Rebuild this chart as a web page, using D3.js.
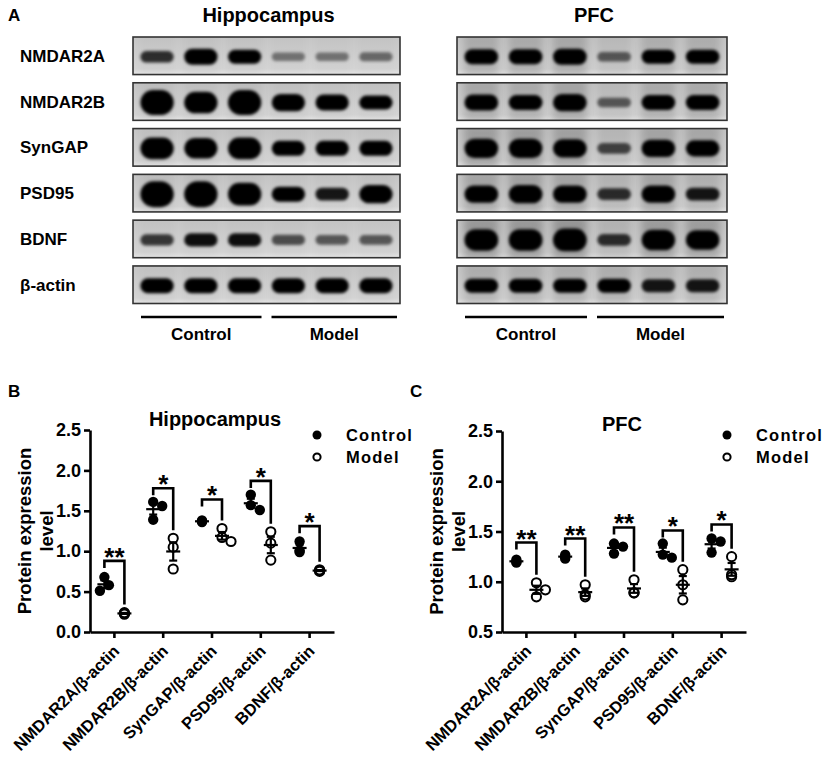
<!DOCTYPE html>
<html>
<head>
<meta charset="utf-8">
<script src="https://cdn.jsdelivr.net/npm/d3@7"></script>
<style>
body { margin: 0; background: #fff; }
text { font-family: "Liberation Sans", Arial, sans-serif; font-weight: bold; fill: #000; }
</style>
</head>
<body>
<div id="fig"></div>
<script>
// ---- data ----
const proteins = ["NMDAR2A", "NMDAR2B", "SynGAP", "PSD95", "BDNF", "β-actin"];
const lanes = ["C1", "C2", "C3", "M1", "M2", "M3"];
const groups = ["Control", "Model"];

// relative band strength per lane (0-1), one row per protein
const hippoBands = [
    [0.35, 0.55, 0.45, 0.2, 0.2, 0.22],
    [0.95, 0.8, 0.95, 0.6, 0.55, 0.45],
    [0.8, 0.75, 0.8, 0.5, 0.5, 0.5],
    [1.0, 1.0, 0.85, 0.5, 0.4, 0.65],
    [0.33, 0.42, 0.42, 0.28, 0.26, 0.26],
    [0.5, 0.5, 0.5, 0.5, 0.5, 0.5]
];
const pfcBands = [
    [0.5, 0.5, 0.55, 0.25, 0.45, 0.45],
    [0.55, 0.5, 0.6, 0.25, 0.5, 0.5],
    [0.7, 0.7, 0.65, 0.3, 0.6, 0.55],
    [0.6, 0.65, 0.6, 0.35, 0.6, 0.4],
    [0.8, 0.8, 0.85, 0.35, 0.75, 0.7],
    [0.45, 0.45, 0.45, 0.45, 0.4, 0.4]
];

const ratioLabels = ["NMDAR2A/β-actin", "NMDAR2B/β-actin", "SynGAP/β-actin", "PSD95/β-actin", "BDNF/β-actin"];

const hippoControl = [[0.68, 0.58, 0.51], [1.61, 1.56, 1.39], [1.38, 1.36, 1.37], [1.70, 1.57, 1.51], [1.12, 0.99, 1.01]];
const hippoModel = [[0.22, 0.23, 0.24], [1.16, 1.05, 0.78], [1.28, 1.12, 1.17], [1.24, 1.10, 0.89], [0.75, 0.76, 0.77]];
const hippoSig = ["**", "*", "*", "*", "*"];
const hippoBracket = [0.88, 1.78, 1.64, 1.87, 1.31];

const pfcControl = [[1.22, 1.20, 1.19], [1.27, 1.23, 1.25], [1.38, 1.35, 1.28], [1.38, 1.24, 1.27], [1.43, 1.40, 1.29]];
const pfcModel = [[0.99, 0.92, 0.85], [0.97, 0.87, 0.85], [1.02, 0.89, 0.89], [1.12, 0.97, 0.82], [1.25, 1.05, 1.07]];
const pfcSig = ["**", "**", "**", "*", "*"];
const pfcBracket = [1.39, 1.43, 1.54, 1.51, 1.57];

const yTicksB = [0, 0.5, 1.0, 1.5, 2.0, 2.5];
const yTicksC = [0.5, 1.0, 1.5, 2.0, 2.5];

// ---- svg ----
const W = 829, H = 758;
const svg = d3.select("#fig").append("svg").attr("width", W).attr("height", H);
const defs = svg.append("defs");

defs.append("filter").attr("id", "blur")
    .attr("x", "-30%").attr("y", "-80%").attr("width", "160%").attr("height", "260%")
    .append("feGaussianBlur").attr("stdDeviation", 1.4);
defs.append("filter").attr("id", "haze")
    .attr("x", "-50%").attr("y", "-50%").attr("width", "200%").attr("height", "200%")
    .append("feGaussianBlur").attr("stdDeviation", 4);

const bg = defs.append("linearGradient").attr("id", "bg").attr("x1", 0).attr("y1", 0).attr("x2", 0).attr("y2", 1);
bg.append("stop").attr("offset", "0%").attr("stop-color", "#c6c6c6");
bg.append("stop").attr("offset", "85%").attr("stop-color", "#d4d4d4");
bg.append("stop").attr("offset", "100%").attr("stop-color", "#e6e6e6");

// ---- panel A: blots ----
svg.append("text").attr("x", 8).attr("y", 21).style("font-size", "17px").text("A");

const rowY = d3.scaleBand().domain(proteins).range([37, 303.5]).paddingInner(0.18);
const thick = d3.scaleLinear().domain([0, 1]).range([4, 26]);
const dark = d3.scaleLinear().domain([0, 0.45]).range([0, 1]).clamp(true);

svg.selectAll(".rowlab")
    .data(proteins)
    .join("text")
    .attr("class", "rowlab")
    .attr("x", 20)
    .attr("y", d => rowY(d) + rowY.bandwidth() / 2 + 6)
    .style("font-size", "17px")
    .text(d => d);

function blot(x0, x1, bands, title, hazeLevel, key) {
    const lx = d3.scalePoint().domain(lanes).range([x0, x1]).padding(0.55);
    const bw = lx.step() * 0.76;

    svg.append("text")
        .attr("x", (x0 + x1) / 2 + 2)
        .attr("y", 22)
        .attr("text-anchor", "middle")
        .style("font-size", "20px")
        .text(title);

    proteins.forEach((p, i) => {
        const y0 = rowY(p), h = rowY.bandwidth();
        const cy = y0 + h / 2 + 1;
        const id = "clip-" + key + i;
        defs.append("clipPath").attr("id", id)
            .append("rect").attr("x", x0).attr("y", y0).attr("width", x1 - x0).attr("height", h);

        const g = svg.append("g").attr("clip-path", `url(#${id})`);
        g.append("rect")
            .attr("x", x0).attr("y", y0).attr("width", x1 - x0).attr("height", h)
            .attr("fill", "url(#bg)");

        // smudge around each lane
        g.selectAll(".haze")
            .data(bands[i])
            .join("rect")
            .attr("x", (d, j) => lx(lanes[j]) - bw / 2 - 1)
            .attr("y", y0 - 4)
            .attr("width", bw + 2)
            .attr("height", h + 8)
            .attr("fill", "#000")
            .attr("opacity", d => d * hazeLevel)
            .attr("filter", "url(#haze)");

        g.selectAll(".band")
            .data(bands[i])
            .join("rect")
            .attr("x", (d, j) => lx(lanes[j]) - bw / 2)
            .attr("y", d => cy - thick(d) / 2)
            .attr("width", bw)
            .attr("height", d => thick(d))
            .attr("rx", d => Math.min(bw / 2, thick(d) / 2))
            .attr("fill", "#050505")
            .attr("opacity", d => dark(d))
            .attr("filter", "url(#blur)");

        svg.append("rect")
            .attr("x", x0).attr("y", y0).attr("width", x1 - x0).attr("height", h)
            .attr("fill", "none")
            .attr("stroke", "#333")
            .attr("stroke-width", 1.6);
    });

    // group underlines
    const mid = (lx("C3") + lx("M1")) / 2;
    const segs = [[x0 + 8, mid - 5], [mid + 5, x1 - 3]];
    svg.selectAll(".seg-" + key)
        .data(groups)
        .join("line")
        .attr("x1", (d, k) => segs[k][0])
        .attr("x2", (d, k) => segs[k][1])
        .attr("y1", 317).attr("y2", 317)
        .attr("stroke", "#000")
        .attr("stroke-width", 2.5);
    svg.selectAll(".glab-" + key)
        .data(groups)
        .join("text")
        .attr("x", (d, k) => (segs[k][0] + segs[k][1]) / 2)
        .attr("y", 340)
        .attr("text-anchor", "middle")
        .style("font-size", "17px")
        .text(d => d);
}

blot(133, 400, hippoBands, "Hippocampus", 0.05, "h");
blot(457, 727, pfcBands, "PFC", 0.3, "p");

// ---- panels B and C: dot plots ----
function swarm(vals, cx, y) {
    const placed = [];
    vals.map(v => y(v)).sort((a, b) => a - b).forEach(py => {
        // near-identical values just stack
        const same = placed.find(q => Math.abs(q.y - py) < 2.5);
        if (same) { placed.push({ x: same.x, y: py }); return; }
        for (const k of [0, 1, -1, 2, -2, 3, -3]) {
            const px = cx + k * 4.5;
            if (placed.every(q => Math.hypot(q.x - px, q.y - py) >= 8.5)) {
                placed.push({ x: px, y: py });
                return;
            }
        }
        placed.push({ x: cx, y: py });
    });
    return placed;
}

function dotPanel(cfg) {
    const x = d3.scaleBand().domain(ratioLabels).range(cfg.xr);
    const y = d3.scaleLinear().domain([cfg.ticks[0], 2.5]).range([632, cfg.yTop]);
    const g = svg.append("g");

    svg.append("text").attr("x", cfg.labX).attr("y", 397).style("font-size", "17px").text(cfg.letter);

    g.append("text")
        .attr("x", cfg.titleX).attr("y", cfg.titleY)
        .attr("text-anchor", "middle")
        .style("font-size", "20px")
        .text(cfg.title);

    // y label, two lines
    const ymid = (y.range()[0] + y.range()[1]) / 2;
    g.selectAll(".ylab")
        .data(["Protein expression", "level"])
        .join("text")
        .attr("transform", (d, i) => `translate(${cfg.xr[0] - 59 + i * 22},${ymid}) rotate(-90)`)
        .attr("text-anchor", "middle")
        .style("font-size", "18.5px")
        .text(d => d);

    const ya = g.append("g")
        .attr("transform", `translate(${cfg.xr[0]},0)`)
        .call(d3.axisLeft(y).tickValues(cfg.ticks).tickFormat(d3.format(".1f")).tickSize(6).tickSizeOuter(0).tickPadding(3));
    const xa = g.append("g")
        .attr("transform", "translate(0,632)")
        .call(d3.axisBottom(x).tickSize(6).tickSizeOuter(0));
    [ya, xa].forEach(a => {
        a.select(".domain").attr("stroke", "#000").attr("stroke-width", 2.6);
        a.selectAll(".tick line").attr("stroke", "#000").attr("stroke-width", 2.6);
        a.selectAll("text").style("font-size", "18px").attr("font-family", null);
    });
    xa.selectAll(".tick text")
        .attr("x", 0).attr("y", 0).attr("dy", 0)
        .attr("text-anchor", "end")
        .attr("transform", "translate(6,20) rotate(-45)")
        .style("font-size", "16.5px");

    const off = x.bandwidth() * 0.205;

    ratioLabels.forEach((lab, i) => {
        const cx = x(lab) + x.bandwidth() / 2;
        [cfg.control[i], cfg.model[i]].forEach((vals, k) => {
            const gx = cx + (k === 0 ? -off : off);
            const pts = swarm(vals, gx, y);
            g.selectAll(null)
                .data(pts)
                .join("circle")
                .attr("cx", d => d.x)
                .attr("cy", d => d.y)
                .attr("r", k === 0 ? 5.2 : 4.6)
                .attr("fill", k === 0 ? "#000" : "none")
                .attr("stroke", "#000")
                .attr("stroke-width", k === 0 ? 0 : 2);

            const m = d3.mean(vals);
            const sem = d3.deviation(vals) / Math.sqrt(vals.length);
            const eb = g.append("g").attr("stroke", "#000").attr("stroke-width", 2.2);
            eb.append("line").attr("x1", gx - 7).attr("x2", gx + 7).attr("y1", y(m)).attr("y2", y(m));
            eb.append("line").attr("x1", gx).attr("x2", gx).attr("y1", y(m - sem)).attr("y2", y(m + sem));
            eb.append("line").attr("x1", gx - 4).attr("x2", gx + 4).attr("y1", y(m - sem)).attr("y2", y(m - sem));
            eb.append("line").attr("x1", gx - 4).attr("x2", gx + 4).attr("y1", y(m + sem)).attr("y2", y(m + sem));
        });

        // significance bracket
        const top = y(cfg.bracket[i]);
        const rEnd = y(d3.max(cfg.model[i])) - 8;
        g.append("path")
            .attr("d", `M${cx - off},${top + 7}V${top}H${cx + off}V${rEnd}`)
            .attr("fill", "none")
            .attr("stroke", "#000")
            .attr("stroke-width", 2.6);
        g.append("text")
            .attr("x", cx)
            .attr("y", top + 5)
            .attr("text-anchor", "middle")
            .style("font-size", "26px")
            .text(cfg.sig[i]);
    });

    // legend
    const leg = g.selectAll(".leg")
        .data(groups)
        .join("g")
        .attr("transform", (d, i) => `translate(${cfg.legX},${435 + i * 22})`);
    leg.append("circle")
        .attr("r", (d, i) => i === 0 ? 4.5 : 3.6)
        .attr("fill", (d, i) => i === 0 ? "#000" : "none")
        .attr("stroke", "#000")
        .attr("stroke-width", (d, i) => i === 0 ? 0 : 2);
    leg.append("text")
        .attr("x", 29)
        .attr("y", 6)
        .style("font-size", "16.5px")
        .style("letter-spacing", "1.2px")
        .text(d => d);
}

dotPanel({
    letter: "B", labX: 8, xr: [90, 334], yTop: 430, ticks: yTicksB,
    title: "Hippocampus", titleX: 215, titleY: 426, legX: 317,
    control: hippoControl, model: hippoModel, sig: hippoSig, bracket: hippoBracket
});
dotPanel({
    letter: "C", labX: 410, xr: [502, 746], yTop: 431, ticks: yTicksC,
    title: "PFC", titleX: 622, titleY: 431, legX: 727,
    control: pfcControl, model: pfcModel, sig: pfcSig, bracket: pfcBracket
});
</script>
</body>
</html>
